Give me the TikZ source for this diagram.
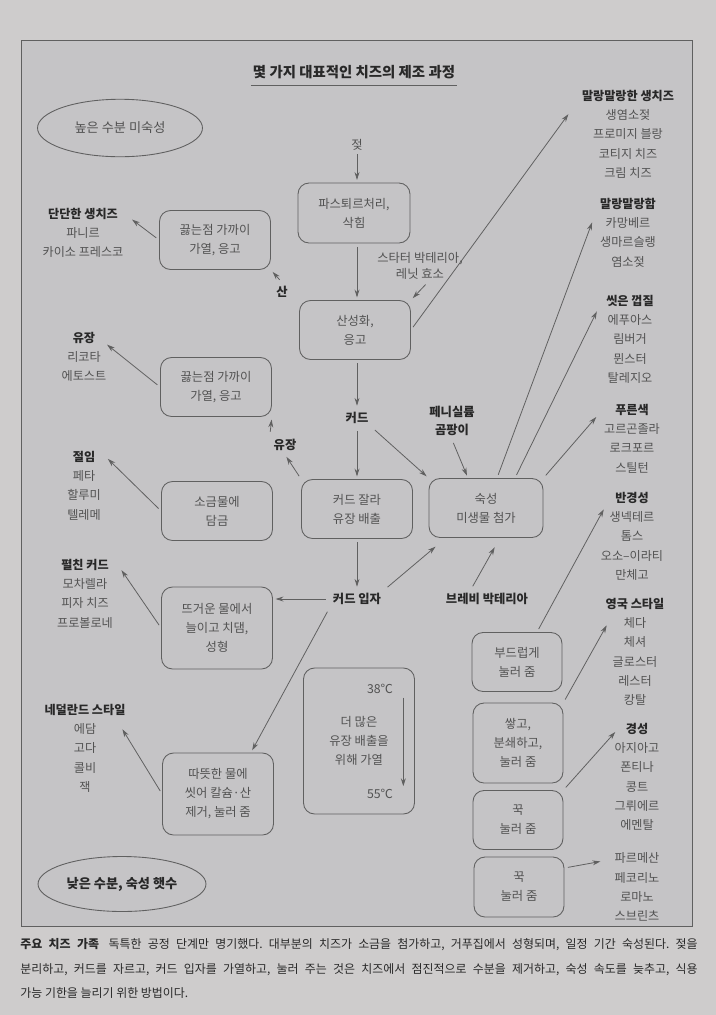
\documentclass[tikz,border=0pt]{standalone}
\usepackage{fontspec}
\setmainfont{Noto Sans CJK KR}
\usetikzlibrary{arrows.meta,shapes.geometric}
\frenchspacing

\definecolor{paper}{RGB}{206,204,204}
\definecolor{panel}{RGB}{197,196,198}
\definecolor{ink}{RGB}{82,82,82}
\definecolor{inkdark}{RGB}{40,40,40}
\definecolor{rule}{RGB}{96,96,96}
\newcommand\famhead[1]{\textcolor{inkdark}{\bfseries #1}}

\begin{document}
\begin{tikzpicture}[x=0.02cm, y=0.02cm, >={Stealth[length=4.5pt,width=2.8pt]}]
\tikzstyle{every node}+=[inner sep=0pt, text=ink, font=\fontsize{7}{10.8}\selectfont]
\tikzstyle{stage}=[draw=rule, line width=0.5pt, rounded corners=0.22cm, minimum width=2.22cm, minimum height=1.18cm, align=center]
\tikzstyle{press}=[stage, minimum width=1.8cm]
\tikzstyle{family}=[align=center, anchor=north, font=\fontsize{6.9}{11}\selectfont]
\tikzstyle{tag}=[inner sep=2pt, text=inkdark, font=\fontsize{7}{10.3}\selectfont\bfseries]
\tikzstyle{class}=[ellipse, draw=rule, line width=0.5pt, minimum width=3.3cm, minimum height=1.15cm, font=\fontsize{7.5}{9}\selectfont]
\tikzstyle{flow}=[->, draw=rule, line width=0.45pt, shorten >=1.5pt, shorten <=2pt]
\useasboundingbox (0,0) rectangle (716,-1015);
\fill[paper] (0,0) rectangle (716,-1015);
\draw[rule, fill=panel, line width=0.5pt] (21,-40) rectangle (692,-926);
\node[font=\fontsize{8.2}{10}\selectfont\bfseries, text=inkdark, inner sep=1pt] (title) at (354,-72) {몇 가지 대표적인 치즈의 제조 과정};
\draw[rule, line width=0.6pt] ([yshift=-2.5pt]title.south west) -- ([yshift=-2.5pt]title.south east);
\node[class] (moist) at (120,-128) {높은 수분 미숙성};
\node[class, font=\fontsize{7.5}{9}\selectfont\bfseries, text=inkdark, minimum width=3.36cm, minimum height=1.1cm] (aged) at (122,-884) {낮은 수분, 숙성 햇수};
\node (milk) at (357,-145) {젖};
\node[stage, minimum width=2.24cm, minimum height=1.2cm] (pasteur) at (354,-213) {파스퇴르처리,\\삭힘};
\node[align=center, font=\fontsize{7}{9.5}\selectfont, inner sep=1pt] (starter) at (420,-266) {스타터 박테리아,\\레닛 효소};
\node[stage] (acid) at (355,-330) {산성화,\\응고};
\node[tag] (curd) at (357,-418) {커드};
\node[stage] (cut) at (357,-509) {커드 잘라\\유장 배출};
\node[stage, minimum width=2.28cm] (ripen) at (486,-508) {숙성\\미생물 첨가};
\node[tag, align=center] (mould) at (452,-421) {페니실륨\\곰팡이};
\node[tag] (grains) at (357,-599) {커드 입자};
\node[tag] (brevi) at (487,-599) {브레비 박테리아};
\node[tag] (acidtag) at (282,-292) {산};
\node[tag] (wheytag) at (285,-445) {유장};
\node[stage] (boil) at (215,-240) {끓는점 가까이\\가열, 응고};
\node[stage] (reboil) at (216,-387) {끓는점 가까이\\가열, 응고};
\node[stage] (brine) at (217,-511) {소금물에\\담금};
\node[stage, minimum height=1.64cm] (stretch) at (217,-628) {뜨거운 물에서\\늘이고 치댐,\\성형};
\node[stage, minimum height=1.64cm] (wash) at (218,-794) {따뜻한 물에\\씻어 칼슘·산\\제거, 눌러 줌};
\node[stage, minimum height=2.92cm] (heat) at (359,-741) {더 많은\\유장 배출을\\위해 가열};
\node (low) at (380,-689) {38℃};
\node (high) at (380,-794) {55℃};
\node[press] (gentle) at (517,-662) {부드럽게\\눌러 줌};
\node[press, minimum height=1.6cm] (mill) at (518,-743) {쌓고,\\분쇄하고,\\눌러 줌};
\node[press] (firm) at (518,-820) {꾹\\눌러 줌};
\node[press, minimum height=1.2cm] (harder) at (519,-887) {꾹\\눌러 줌};
\node[family] (rawhard) at (83,-207.5) {\famhead{단단한 생치즈}\\파니르\\카이소 프레스코};
\node[family] (whey) at (84,-331.5) {\famhead{유장}\\리코타\\에토스트};
\node[family] (pickle) at (84,-450.5) {\famhead{절임}\\페타\\할루미\\텔레메};
\node[family] (pasta) at (85,-558.5) {\famhead{펼친 커드}\\모차렐라\\피자 치즈\\프로볼로네};
\node[family] (dutch) at (85,-703.5) {\famhead{네덜란드 스타일}\\에담\\고다\\콜비\\잭};
\node[family] (soft) at (628,-89.5) {\famhead{말랑말랑한 생치즈}\\생염소젖\\프로미지 블랑\\코티지 치즈\\크림 치즈};
\node[family] (bloomy) at (628,-197.5) {\famhead{말랑말랑함}\\카망베르\\생마르슬랭\\염소젖};
\node[family] (washed) at (630,-294.5) {\famhead{씻은 껍질}\\에푸아스\\림버거\\뮌스터\\탈레지오};
\node[family] (blue) at (632,-403.5) {\famhead{푸른색}\\고르곤졸라\\로크포르\\스틸턴};
\node[family] (semi) at (632,-491.5) {\famhead{반경성}\\생넥테르\\톰스\\오소–이라티\\만체고};
\node[family] (english) at (635,-597.5) {\famhead{영국 스타일}\\체다\\체셔\\글로스터\\레스터\\캉탈};
\node[family] (hard) at (637,-722.5) {\famhead{경성}\\아지아고\\폰티나\\콩트\\그뤼에르\\에멘탈};
\node[family] (grana) at (637,-852.5) {파르메산\\페코리노\\로마노\\스브린츠};
\coordinate (tsoft) at (570,-112);
\coordinate (tbloomy) at (593,-220);
\coordinate (twashed) at (598,-309);
\coordinate (tblue) at (598,-415);
\coordinate (tsemi) at (605,-507);
\coordinate (tenglish) at (608,-623);
\coordinate (thard) at (617,-730);
\coordinate (tgrana) at (603,-861);
\coordinate (trawhard) at (130,-218);
\coordinate (twhey) at (105,-343);
\coordinate (tpickle) at (106,-457);
\coordinate (tpasta) at (120,-568);
\coordinate (tdutch) at (121,-727);
\draw[flow] (milk.south) -- (milk.south |- pasteur.north);
\draw[flow] (milk.south |- pasteur.south) -- (milk.south |- acid.north);
\draw[flow] ([xshift=0.16cm]starter.south) -- (acid.north east);
\draw[flow] (acid.east) -- (tsoft);
\draw[flow] (curd.north |- acid.south) -- (curd.north);
\draw[flow] (curd.south) -- (cut.north);
\draw[flow] (curd.south east) -- (ripen.north west);
\draw[flow] (cut.south) -- (grains.north);
\draw[flow] (cut.north west) -- (wheytag.south);
\draw[flow] (wheytag.north west) -- (reboil.south east);
\draw[flow] (acidtag.north) -- (boil.south east);
\draw[flow] (boil.west) -- (trawhard);
\draw[flow] (reboil.west) -- (twhey);
\draw[flow] (brine.west) -- (tpickle);
\draw[flow] (stretch.west) -- (tpasta);
\draw[flow] (wash.west) -- (tdutch);
\draw[flow] (grains.west) -- (grains.west -| stretch.east);
\draw[flow] (grains.south west) -- ([xshift=-0.46cm]wash.north east);
\draw[flow] (grains.north east) -- ([shift={(0.18cm,-0.14cm)}]ripen.south west);
\draw[flow] (mould.south) -- ([xshift=-0.36cm]ripen.north);
\draw[flow] ([xshift=-0.32cm]brevi.north) -- ([shift={(0.2cm,-0.14cm)}]ripen.south);
\draw[flow] ([xshift=0.22cm]ripen.north) -- (tbloomy);
\draw[flow] ([xshift=0.58cm]ripen.north) -- (twashed);
\draw[flow] (ripen.north east) -- (tblue);
\draw[flow] ([xshift=0.4cm]gentle.north) -- (tsemi);
\draw[flow] (mill.north east) -- (tenglish);
\draw[flow] (firm.north east) -- (thard);
\draw[flow] ([yshift=0.38cm]harder.east) -- (tgrana);
\draw[flow] ([xshift=0.2cm]low.south east) -- ([xshift=0.2cm]high.north east);
\node[anchor=north west, text width=13.55cm, align=justify, text=inkdark, font=\fontsize{6.8}{13.9}\selectfont] (caption) at (20,-938.5) {\textbf{주요 치즈 가족}\hspace{0.8em}독특한 공정 단계만 명기했다. 대부분의 치즈가 소금을 첨가하고, 거푸집에서 성형되며, 일정 기간 숙성된다. 젖을\linebreak 분리하고, 커드를 자르고, 커드 입자를 가열하고, 눌러 주는 것은 치즈에서 점진적으로 수분을 제거하고, 숙성 속도를 늦추고, 식용\linebreak 가능 기한을 늘리기 위한 방법이다.};
\end{tikzpicture}
\end{document}
